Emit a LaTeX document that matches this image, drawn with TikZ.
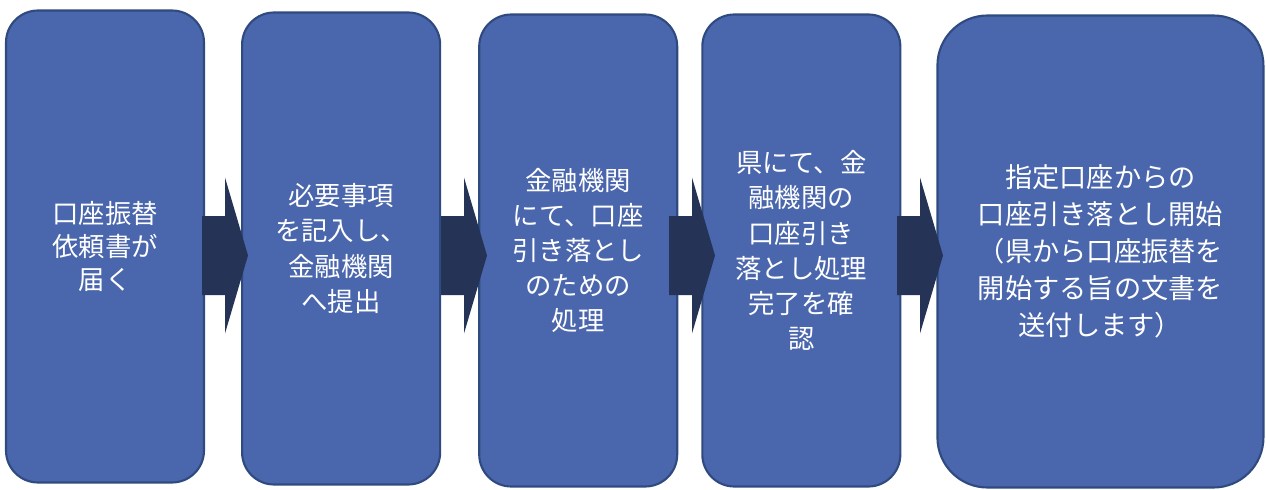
\documentclass[tikz,border=0pt]{standalone}
\usepackage{fontspec}
\setmainfont{Noto Sans CJK JP}
\usetikzlibrary{positioning}
\definecolor{boxblue}{HTML}{4A66AC}
\definecolor{boxline}{HTML}{2F4A7E}
\definecolor{arrnavy}{HTML}{243356}

\begin{document}
\begin{tikzpicture}[
	every node/.style={font=\fontsize{15pt}{20pt}\selectfont, text=white},
	stepbox/.style={rectangle, rounded corners=0.64cm, draw=boxline, line width=1.2pt, fill=boxblue, align=center, minimum width=3.96cm, minimum height=9.44cm, inner sep=2pt},
	bigbox/.style={stepbox, rounded corners=1cm, minimum width=6.52cm},
	blockarr/.style={fill=arrnavy}
	]

\useasboundingbox (0,0) rectangle (25.32,9.78);

\node[stepbox, font=\fontsize{15pt}{19pt}\selectfont] (b1) at (2.1,4.85) {口座振替\\依頼書が\\届く};
\node[stepbox, right=0.72cm of b1, yshift=-0.04cm] (b2) {必要事項\\を記入し、\\金融機関\\へ提出};
\node[stepbox, right=0.74cm of b2, yshift=-0.04cm] (b3) {金融機関\\にて、口座\\引き落とし\\のための\\処理};
\node[stepbox, right=0.46cm of b3] (b4) {県にて、金\\融機関の\\口座引き\\落とし処理\\完了を確\\認};
\node[bigbox, right=0.7cm of b4, yshift=-0.02cm, font=\fontsize{15.5pt}{21pt}\selectfont] (b5) {指定口座からの\\口座引き落とし開始\\（県から口座振替を\\開始する旨の文書を\\送付します）};

% block arrows between the steps
\foreach \n/\x in {a1/4.04, a2/8.82, a3/13.38, a4/17.94}
	\coordinate (\n) at (\x,4.67);

\foreach \n in {a1,a2,a3,a4}
	\fill[blockarr] (\n) ++(0,0.79) -- ++(0.46,0) -- ++(0,0.77) -- ++(0.46,-1.56)
		-- ++(-0.46,-1.56) -- ++(0,0.77) -- ++(-0.46,0) -- cycle;

\end{tikzpicture}
\end{document}
